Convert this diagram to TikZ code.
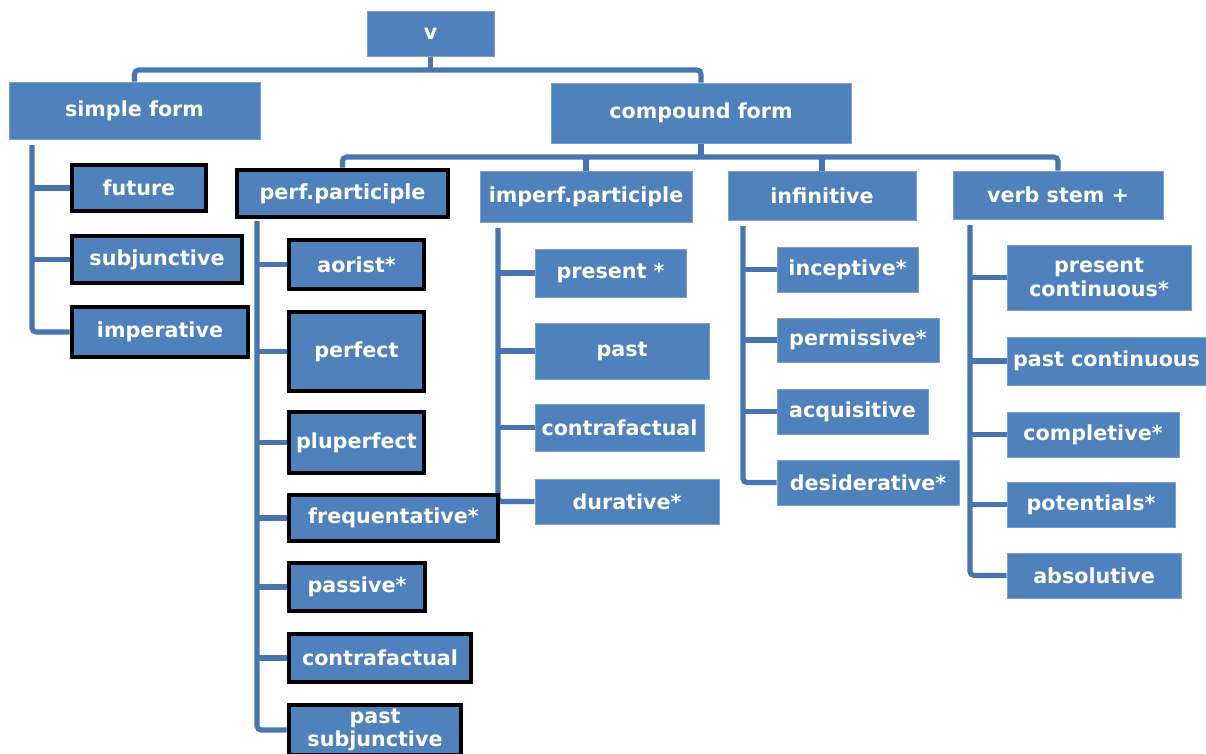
\documentclass[tikz,border=0pt]{standalone}
\usepackage{fontspec}
\setmainfont{DejaVu Sans}
\usetikzlibrary{backgrounds}
\definecolor{boxblue}{HTML}{4F81BD}
\definecolor{linkblue}{HTML}{4775B0}
\tikzset{
  wh/.style 2 args={minimum width=#1*0.75pt, minimum height=#2*0.75pt},
  box/.style={fill=boxblue, draw=boxblue!75!white, line width=0.6pt, text=white,
    inner sep=0pt, align=center, font=\fontsize{15.5}{17.5}\selectfont\bfseries},
  boldbox/.style={box, draw=black, line width=3.4pt},
  link/.style={draw=linkblue, line width=3.8pt, rounded corners=3pt},
}
\begin{document}
\begin{tikzpicture}[x=0.75pt, y=-0.75pt]
\useasboundingbox (0,0) rectangle (1206,753);
% top levels
\node[box, wh={127}{45}] (v) at (430.5,33.5) {v};
\node[box, wh={251}{57}] (simple) at (134.5,110.5) {simple form};
\node[box, wh={300}{60}] (compound) at (701,113) {compound form};

% simple form
\node[boldbox, wh={134}{46}] (future) at (139,188) {future};
\node[boldbox, wh={170}{47}] (subjunctive) at (157,259.5) {subjunctive};
\node[boldbox, wh={176}{50}] (imperative) at (160,332) {imperative};

% compound form
\node[boldbox, wh={211}{47}] (perf) at (342.5,193.5) {perf.participle};
\node[box, wh={212}{51}] (imperf) at (586,196.5) {imperf.participle};
\node[box, wh={188}{49}] (infinitive) at (822,195.5) {infinitive};
\node[box, wh={210}{48}] (stem) at (1058,195) {verb stem +};

% perf.participle
\node[boldbox, wh={135}{49}] (aorist) at (356.5,264.5) {aorist*};
\node[boldbox, wh={135}{79}] (perfect) at (356.5,351.5) {perfect};
\node[boldbox, wh={135}{61}] (pluperfect) at (356.5,442.5) {pluperfect};
\node[boldbox, wh={209}{46}] (frequentative) at (393.5,518) {frequentative*};
\node[boldbox, wh={136}{48}] (passive) at (357,587) {passive*};
\node[boldbox, wh={182}{48}] (contraperf) at (380,658) {contrafactual};
\node[boldbox, wh={172}{50}] (pastsubj) at (375,730) {past\\subjunctive};

% imperf.participle
\node[box, wh={151}{48}] (present) at (610.5,273) {present *};
\node[box, wh={174}{56}] (past) at (622,351) {past};
\node[box, wh={169}{47}] (contraimperf) at (619.5,427.5) {contrafactual};
\node[box, wh={184}{45}] (durative) at (627,501.5) {durative*};

% infinitive
\node[box, wh={141}{45}] (inceptive) at (847.5,269.5) {inceptive*};
\node[box, wh={162}{44}] (permissive) at (858,340) {permissive*};
\node[box, wh={151}{45}] (acquisitive) at (852.5,411.5) {acquisitive};
\node[box, wh={182}{45}] (desiderative) at (868,482.5) {desiderative*};

% verb stem +
\node[box, wh={184}{65}] (prescont) at (1099,277.5) {present\\continuous*};
\node[box, wh={199}{48}] (pastcont) at (1106.5,361) {past continuous};
\node[box, wh={172}{45}] (completive) at (1093,434.5) {completive*};
\node[box, wh={168}{45}] (potentials) at (1091,504.5) {potentials*};
\node[box, wh={174}{45}] (absolutive) at (1094,575.5) {absolutive};

\begin{scope}[on background layer]
  \coordinate (topbus) at (430,70);
  \coordinate (cbus) at (701,157);
  \draw[link] (simple.north) |- (topbus) -| (compound.north);
  \draw[link] (v.south) -- (v.south |- topbus);
  \draw[link] (perf.north) |- (cbus) -| (stem.north);
  \draw[link] (compound.south) -- (cbus);
  \draw[link] (imperf.north) -- (imperf.north |- cbus);
  \draw[link] (infinitive.north) -- (infinitive.north |- cbus);

  % spines
  \coordinate (sfspine) at (32,145);
  \draw[link] (sfspine) |- (imperative.west);
  \foreach \c in {future,subjunctive}
    \draw[link] (sfspine |- \c.west) -- (\c.west);

  \coordinate (perfspine) at (257,221);
  \draw[link] (perfspine) |- (pastsubj.west);
  \foreach \c in {aorist,perfect,pluperfect,frequentative,passive,contraperf}
    \draw[link] (perfspine |- \c.west) -- (\c.west);

  \coordinate (imperfspine) at (498,228);
  \draw[link] (imperfspine) |- (durative.west);
  \foreach \c in {present,past,contraimperf}
    \draw[link] (imperfspine |- \c.west) -- (\c.west);

  \coordinate (infspine) at (743,226);
  \draw[link] (infspine) |- (desiderative.west);
  \foreach \c in {inceptive,permissive,acquisitive}
    \draw[link] (infspine |- \c.west) -- (\c.west);

  \coordinate (stemspine) at (970,225);
  \draw[link] (stemspine) |- (absolutive.west);
  \foreach \c in {prescont,pastcont,completive,potentials}
    \draw[link] (stemspine |- \c.west) -- (\c.west);
\end{scope}
\end{tikzpicture}
\end{document}
